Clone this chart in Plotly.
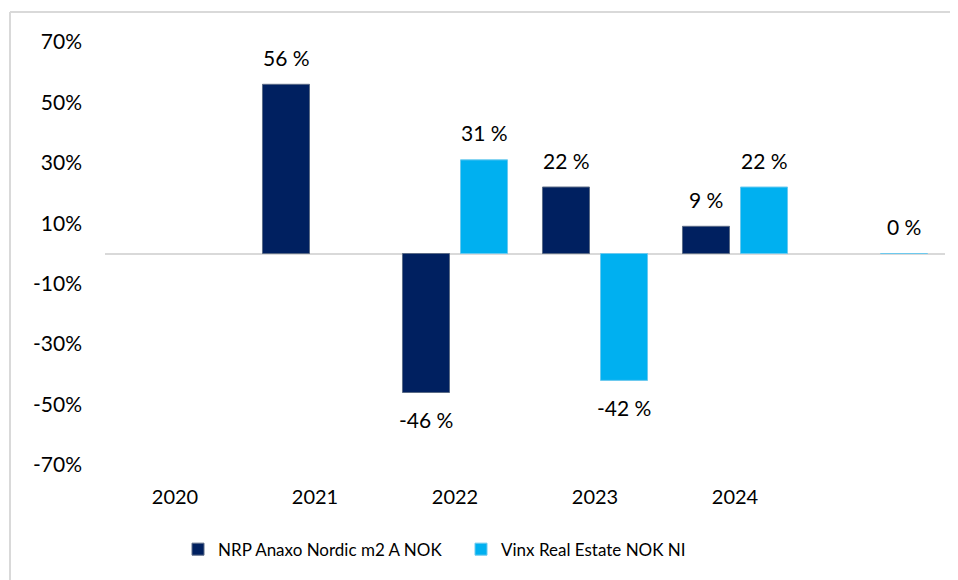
import plotly.graph_objects as go

categories = ["2020", "2021", "2022", "2023", "2024", " "]
nrp_values = [None, 56, -46, 22, 9, None]
vinx_values = [None, None, 31, -42, 22, 0]
series_names = ["NRP Anaxo Nordic m2 A NOK", "Vinx Real Estate NOK NI"]
tick_values = [-70, -50, -30, -10, 10, 30, 50, 70]
tick_labels = ["-70%", "-50%", "-30%", "-10%", "10%", "30%", "50%", "70%"]

NRP_COLOR = "#002060"
VINX_COLOR = "#00B0F0"
FONT = "Lato"

fig = go.Figure()
fig.add_trace(go.Bar(
    x=categories, y=nrp_values, name=series_names[0],
    marker=dict(color=NRP_COLOR, line=dict(color="#5b6b86", width=1)),
))
fig.add_trace(go.Bar(
    x=categories, y=vinx_values, name=series_names[1],
    marker=dict(color=VINX_COLOR, line=dict(color="#6cc9ee", width=1)),
))

# page body adds an 8px offset; layout is specified relative to it
W, H = 958, 580
L, T = 97, 34
PW, PH = 840, 423
R = W - L - PW
B = H - T - PH

annotations = []
for vals, shift in ((nrp_values, -29), (vinx_values, 29)):
    for i, v in enumerate(vals):
        if v is None:
            continue
        annotations.append(dict(
            x=i, y=v, xref="x", yref="y", text=f"{v:.0f} %", showarrow=False,
            xshift=shift, yshift=27 if v >= 0 else -27, yanchor="middle",
            font=dict(family=FONT, size=21, color="#000000"),
        ))

x0 = (2 - L) / PW
y1 = (T + PH - 4) / PH
shapes = [
    dict(type="line", xref="paper", yref="paper", x0=x0, x1=x0, y0=-1, y1=y1,
         line=dict(color="#d9d9d9", width=2)),
    dict(type="line", xref="paper", yref="paper", x0=x0, x1=1.2, y0=y1, y1=y1,
         line=dict(color="#d9d9d9", width=2)),
]

fig.update_layout(
    width=W, height=H,
    margin=dict(l=L, r=R, t=T, b=B, autoexpand=False),
    paper_bgcolor="white", plot_bgcolor="white",
    barmode="group", bargap=0.171, bargroupgap=0.19,
    font=dict(family=FONT, size=20, color="#000000"),
    showlegend=True,
    legend=dict(orientation="h", x=(170 - L) / PW, xanchor="left", y=-0.2,
                yanchor="middle", entrywidth=238,
                font=dict(family=FONT, size=17), traceorder="normal"),
    annotations=annotations,
    shapes=shapes,
)
fig.update_xaxes(
    type="category", categoryorder="array", categoryarray=categories,
    range=[-0.5, len(categories) - 0.5], autorange=False,
    showgrid=False, showline=False, zeroline=False, ticks="",
    tickfont=dict(family=FONT, size=20), ticklabelstandoff=18,
)
fig.update_yaxes(
    range=[-70, 70], autorange=False, tickvals=tick_values, ticktext=tick_labels,
    showgrid=False, showline=False, zeroline=True, zerolinecolor="#d9d9d9",
    zerolinewidth=2, ticks="", tickfont=dict(family=FONT, size=21),
    ticklabelstandoff=22,
)

fig.write_html("out.html")
